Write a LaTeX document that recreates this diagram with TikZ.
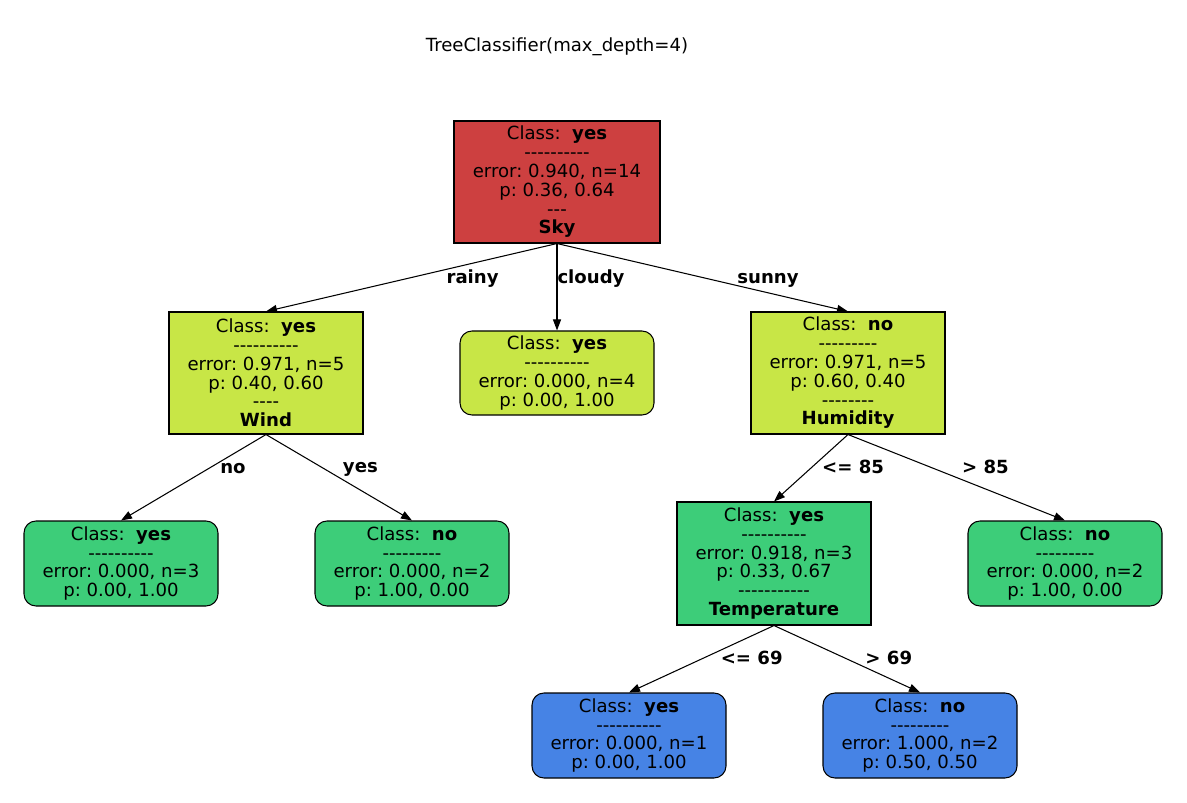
\documentclass[tikz,border=0pt]{standalone}
\usepackage{fontspec}
\setmainfont{DejaVu Sans}
\usepackage{xcolor}
\usetikzlibrary{arrows.meta}

\definecolor{rootred}{RGB}{205,64,64}
\definecolor{lime}{RGB}{200,230,70}
\definecolor{leafgreen}{RGB}{61,205,121}
\definecolor{leafblue}{RGB}{70,131,229}

\newcommand\dashrow[1]{\foreach \k in {1,...,#1}{-\kern0pt}}

\tikzset{
	split/.style={draw, line width=0.6pt, align=center, inner sep=0pt, minimum width=3.88cm, minimum height=2.44cm},
	leaf/.style={draw, line width=0.6pt, align=center, inner sep=0pt, rounded corners=0.24cm, minimum width=3.88cm, minimum height=1.7cm},
	edge/.style={line width=0.6pt, -{Triangle[length=0.22cm, width=0.16cm]}},
	elabel/.style={font=\bfseries\fontsize{10.3}{10.7}\selectfont, inner sep=0pt}
}

\begin{document}
\frenchspacing
\begin{tikzpicture}[font=\fontsize{10.3}{10.7}\selectfont]
	\useasboundingbox (0,0) rectangle (23.74,-16.06);
	\node (title) at (11.14,-0.94) {TreeClassifier(max\_depth=4)};

	\node[split, fill=rootred, minimum width=4.12cm] (sky) at (11.14,-3.64)
		{Class:\ \ \textbf{yes}\\\dashrow{10}\\error: 0.940, n=14\\p: 0.36, 0.64\\\dashrow{3}\\\textbf{Sky}};

	\node[split, fill=lime] (wind) at (5.32,-7.46)
		{Class:\ \ \textbf{yes}\\\dashrow{10}\\error: 0.971, n=5\\p: 0.40, 0.60\\\dashrow{4}\\\textbf{Wind}};
	\node[leaf, fill=lime, minimum height=1.68cm] (cloudy) at (11.14,-7.46)
		{Class:\ \ \textbf{yes}\\\dashrow{10}\\error: 0.000, n=4\\p: 0.00, 1.00};
	\node[split, fill=lime] (humid) at (16.96,-7.46)
		{Class:\ \ \textbf{no}\\\dashrow{9}\\error: 0.971, n=5\\p: 0.60, 0.40\\\dashrow{8}\\\textbf{Humidity}};

	\node[leaf, fill=leafgreen] (windno) at (2.42,-11.27)
		{Class:\ \ \textbf{yes}\\\dashrow{10}\\error: 0.000, n=3\\p: 0.00, 1.00};
	\node[leaf, fill=leafgreen] (windyes) at (8.24,-11.27)
		{Class:\ \ \textbf{no}\\\dashrow{9}\\error: 0.000, n=2\\p: 1.00, 0.00};
	\node[split, fill=leafgreen, minimum height=2.46cm] (temp) at (15.48,-11.27)
		{Class:\ \ \textbf{yes}\\\dashrow{10}\\error: 0.918, n=3\\p: 0.33, 0.67\\\dashrow{11}\\\textbf{Temperature}};
	\node[leaf, fill=leafgreen] (humhigh) at (21.30,-11.27)
		{Class:\ \ \textbf{no}\\\dashrow{9}\\error: 0.000, n=2\\p: 1.00, 0.00};

	\node[leaf, fill=leafblue] (templow) at (12.58,-14.71)
		{Class:\ \ \textbf{yes}\\\dashrow{10}\\error: 0.000, n=1\\p: 0.00, 1.00};
	\node[leaf, fill=leafblue] (temphigh) at (18.40,-14.71)
		{Class:\ \ \textbf{no}\\\dashrow{9}\\error: 1.000, n=2\\p: 0.50, 0.50};

	\draw[edge] (sky.south) -- (wind.north) node[elabel, pos=0.29, yshift=-0.3cm] {rainy};
	\draw[edge] (sky.south) -- (cloudy.north) node[elabel, pos=0.4, xshift=0.68cm] {cloudy};
	\draw[edge] (sky.south) -- (humid.north) node[elabel, pos=0.725, yshift=0.25cm] {sunny};
	\draw[edge] (wind.south) -- (windno.north) node[elabel, pos=0.4, xshift=0.5cm] {no};
	\draw[edge] (wind.south) -- (windyes.north) node[elabel, pos=0.4, xshift=0.72cm] {yes};
	\draw[edge] (humid.south) -- (temp.north) node[elabel, pos=0.485, xshift=0.82cm] {<= 85};
	\draw[edge] (humid.south) -- (humhigh.north) node[elabel, pos=0.38, xshift=1.1cm] {> 85};
	\draw[edge] (temp.south) -- (templow.north) node[elabel, pos=0.485, xshift=0.96cm] {<= 69};
	\draw[edge] (temp.south) -- (temphigh.north) node[elabel, pos=0.485, xshift=0.88cm] {> 69};
\end{tikzpicture}
\end{document}
